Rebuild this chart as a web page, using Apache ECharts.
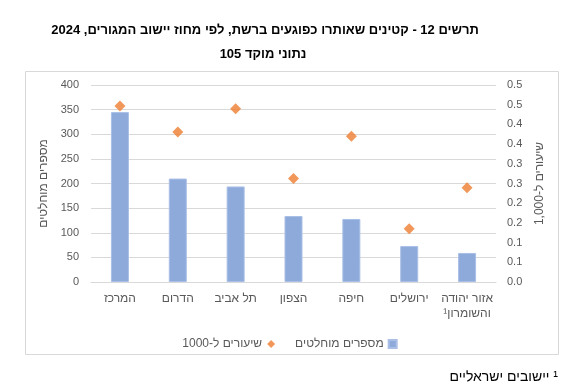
<!DOCTYPE html>
<html lang="he">
<head>
<meta charset="utf-8">
<script src="https://cdn.jsdelivr.net/npm/echarts@6/dist/echarts.min.js"></script>
<style>
html,body{margin:0;padding:0;background:#fff;}
#c{width:580px;height:386px;}
</style>
</head>
<body>
<div id="c"></div>
<script>
var categories = ['המרכז', 'הדרום', 'תל אביב', 'הצפון', 'חיפה', 'ירושלים', 'אזור יהודה\nוהשומרון¹'];
var absoluteValues = [345, 210, 194, 134, 128, 73, 59];
var ratesPer1000 = [0.447, 0.381, 0.44, 0.263, 0.37, 0.135, 0.239];
var seriesNames = ['מספרים מוחלטים', 'שיעורים ל-1000'];
var titleLines = ['תרשים 12 - קטינים שאותרו כפוגעים ברשת, לפי מחוז יישוב המגורים, 2024', 'נתוני מוקד 105'];
var leftAxisName = 'מספרים מוחלטים';
var rightAxisName = 'שיעורים ל-1,000';
var footnote = '¹ יישובים ישראליים';

function rtl(s) {
  return String(s).split('\n').map(function (l) { return '\u202B' + l + '\u202C'; }).join('\n');
}

var font = '"Liberation Sans", Arial, sans-serif';
var legendNames = seriesNames.map(rtl);
var chart = echarts.init(document.getElementById('c'), null, {renderer: 'canvas'});
chart.setOption({
  backgroundColor: '#ffffff',
  animation: false,
  textStyle: {fontFamily: font},
  graphic: [
    {type: 'text', x: 265, y: 30, style: {text: rtl(titleLines[0]), font: 'bold 13px ' + font, fill: '#000', textAlign: 'center', textVerticalAlign: 'middle'}},
    {type: 'text', x: 263, y: 54, style: {text: rtl(titleLines[1]), font: 'bold 13px ' + font, fill: '#000', textAlign: 'center', textVerticalAlign: 'middle'}},
    {type: 'rect', shape: {x: 25.5, y: 71.5, width: 533, height: 283}, style: {fill: 'none', stroke: '#d9d9d9', lineWidth: 1}, z: -1},
    {type: 'text', x: 558, y: 377, style: {text: rtl(footnote), font: '14px ' + font, fill: '#000', textAlign: 'right', textVerticalAlign: 'middle'}}
  ],
  legend: {
    data: [
      {name: legendNames[1], icon: 'diamond', itemStyle: {color: '#ed7d31'}},
      {name: legendNames[0], icon: 'rect'}
    ],
    left: 'center',
    top: 333,
    align: 'right',
    itemWidth: 8,
    itemHeight: 8,
    itemGap: 20,
    textStyle: {fontFamily: font, fontSize: 12, color: '#595959'}
  },
  grid: {left: 91, right: 84, top: 85, bottom: 104},
  xAxis: {
    type: 'category',
    data: categories,
    axisLine: {lineStyle: {color: '#d9d9d9'}},
    axisTick: {show: false},
    axisLabel: {color: '#595959', fontSize: 12, margin: 9, lineHeight: 15, interval: 0,
      formatter: function (v) { return rtl(v); }}
  },
  yAxis: [
    {
      type: 'value', min: 0, max: 400, interval: 50, position: 'left',
      name: rtl(leftAxisName), nameLocation: 'middle', nameRotate: 90, nameGap: 41,
      nameTextStyle: {color: '#595959', fontSize: 12, fontFamily: font},
      axisLine: {show: false}, axisTick: {show: false},
      axisLabel: {color: '#595959', fontSize: 11, margin: 12},
      splitLine: {lineStyle: {color: '#d9d9d9', width: 1}}
    },
    {
      type: 'value', min: 0, max: 0.5, interval: 0.05, position: 'right',
      name: rtl(rightAxisName), nameLocation: 'middle', nameRotate: 90, nameGap: 37,
      nameTextStyle: {color: '#595959', fontSize: 12, fontFamily: font},
      axisLine: {show: false}, axisTick: {show: false},
      axisLabel: {color: '#595959', fontSize: 11, margin: 11,
        formatter: function (v) { return (Math.round(v * 10 + 1e-6) / 10).toFixed(1); }},
      splitLine: {show: false}
    }
  ],
  series: [
    {
      name: legendNames[0], type: 'bar', data: absoluteValues, yAxisIndex: 0,
      barWidth: 18,
      itemStyle: {color: '#8eaadb', borderColor: '#a9bfe6', borderWidth: 1}
    },
    {
      name: legendNames[1], type: 'scatter', data: ratesPer1000, yAxisIndex: 1,
      symbol: 'diamond', symbolSize: 11,
      itemStyle: {color: '#ed7d31'}
    }
  ]
});
</script>
</body>
</html>
